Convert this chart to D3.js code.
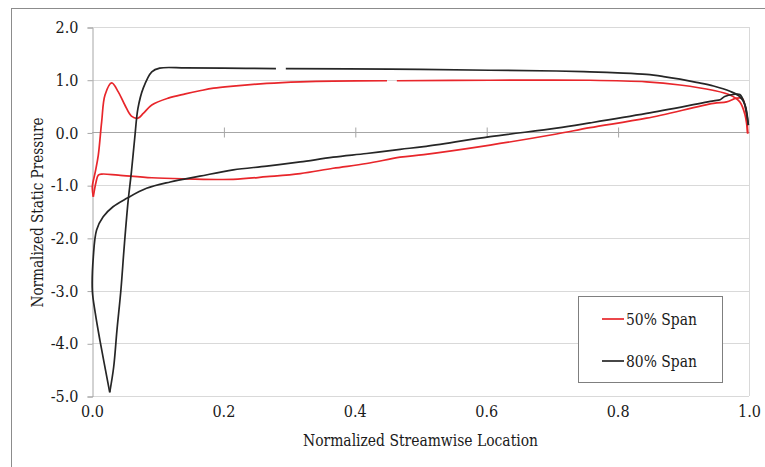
<!DOCTYPE html>
<html>
<head>
<meta charset="utf-8">
<script src="https://cdn.jsdelivr.net/npm/d3@7"></script>
<style>
  html, body { margin: 0; padding: 0; background: #fff; }
  svg { display: block; }
</style>
</head>
<body>
<svg id="chart" width="765" height="467"></svg>
<script>
// ---------- data ----------
const xTicks = [0.0, 0.2, 0.4, 0.6, 0.8, 1.0];
const yTicks = [-5, -4, -3, -2, -1, 0, 1, 2];
const seriesNames = ["50% Span", "80% Span"];

// 50% span, suction side: leading edge -> trailing edge (null = gap in the trace)
const span50Upper = [
  [0.002,-1.22],[0.0005,-1.03],[0.005,-0.75],[0.0096,-0.43],[0.0147,0.20],[0.0198,0.71],
  [0.030,0.94],[0.040,0.77],[0.050,0.52],[0.060,0.31],[0.070,0.27],[0.078,0.36],
  [0.091,0.52],[0.116,0.65],[0.142,0.73],[0.164,0.79],[0.185,0.84],[0.215,0.88],
  [0.266,0.93],[0.317,0.96],[0.367,0.975],[0.449,0.98],null,[0.464,0.98],
  [0.606,0.99],[0.758,0.99],[0.844,0.96],[0.895,0.90],[0.945,0.80],[0.971,0.71],
  [0.986,0.58],[0.994,0.33],[0.998,-0.02]
];
// 50% span, pressure side
const span50Lower = [
  [0.002,-1.22],[0.006,-0.95],[0.0096,-0.81],[0.015,-0.79],[0.040,-0.81],[0.091,-0.86],
  [0.142,-0.88],[0.215,-0.89],[0.266,-0.84],[0.317,-0.78],[0.367,-0.68],[0.418,-0.59],
  [0.469,-0.47],[0.505,-0.42],[0.606,-0.24],[0.707,-0.03],[0.758,0.09],[0.844,0.27],
  [0.946,0.55],[0.966,0.58],[0.981,0.65],[0.990,0.64],[0.996,0.35],[0.998,-0.02]
];
// 80% span, suction side: minimum -> top -> trailing edge
const span80Upper = [
  [0.027,-4.93],[0.033,-4.45],[0.038,-3.75],[0.044,-2.99],[0.049,-2.17],[0.055,-1.30],
  [0.060,-0.75],[0.065,-0.11],[0.070,0.46],[0.078,0.84],[0.091,1.15],[0.103,1.22],
  [0.142,1.225],[0.200,1.22],[0.280,1.21],null,[0.295,1.21],[0.454,1.20],[0.606,1.18],
  [0.707,1.165],[0.758,1.15],[0.800,1.13],[0.844,1.10],[0.870,1.06],[0.895,1.01],
  [0.920,0.95],[0.946,0.88],[0.971,0.78],[0.986,0.68],[0.994,0.52],[0.999,0.14]
];
// 80% span, pressure side: minimum -> leading edge -> trailing edge
const span80Lower = [
  [0.027,-4.93],[0.012,-3.94],[0.005,-3.43],[0.0005,-3.0],[0.002,-2.36],[0.007,-1.85],
  [0.017,-1.60],[0.032,-1.41],[0.053,-1.25],[0.083,-1.06],[0.119,-0.94],[0.164,-0.83],
  [0.215,-0.71],[0.266,-0.64],[0.317,-0.56],[0.367,-0.47],[0.418,-0.40],[0.469,-0.32],
  [0.505,-0.27],[0.606,-0.08],[0.707,0.08],[0.758,0.18],[0.844,0.36],[0.946,0.60],
  [0.956,0.62],[0.963,0.68],[0.976,0.72],[0.986,0.72],[0.993,0.55],[0.999,0.14]
];

// ---------- drawing ----------
const svg = d3.select("#chart");
const FONT = '"DejaVu Serif", serif';
const TXT = "#1a1a1a";
const plot = { left: 92, right: 749, top: 27, bottom: 396 };
const x = d3.scaleLinear().domain([0, 1]).range([plot.left, plot.right]);
const y = d3.scaleLinear().domain([-5, 2]).range([plot.bottom, plot.top]);

const RED = "#e8262b", BLACK = "#262626";
const GRID = "#d9d9d9", AXIS = "#a6a6a6";

// narrow the (wide) serif glyphs to Times-like widths
function squeeze(sel, factor, target) {
  sel.each(function () {
    const w = this.getComputedTextLength();
    const t = target != null ? target : w * factor;
    d3.select(this).attr("textLength", t).attr("lengthAdjust", "spacingAndGlyphs");
  });
}

svg.append("rect").attr("x", 11.5).attr("y", 8.5).attr("width", 800).attr("height", 500)
  .attr("fill", "none").attr("stroke", "#8c8c8c").attr("stroke-width", 1);

svg.append("g").selectAll("line").data(yTicks.filter(d => d > -5)).join("line")
  .attr("x1", plot.left).attr("x2", plot.right)
  .attr("y1", d => Math.round(y(d)) + 0.5).attr("y2", d => Math.round(y(d)) + 0.5)
  .attr("stroke", GRID).attr("stroke-width", 1);

svg.append("line").attr("x1", plot.right + 0.5).attr("x2", plot.right + 0.5)
  .attr("y1", plot.top).attr("y2", plot.bottom).attr("stroke", GRID);
svg.append("line").attr("x1", plot.left).attr("x2", plot.right)
  .attr("y1", plot.bottom + 0.5).attr("y2", plot.bottom + 0.5).attr("stroke", GRID);

const yAxis = svg.append("g").attr("transform", `translate(${plot.left + 0.5},0.5)`)
  .call(d3.axisLeft(y).tickValues(yTicks).tickSize(5).tickPadding(9)
    .tickFormat(d => d.toFixed(1)));
yAxis.attr("font-family", FONT).attr("font-size", 16);
yAxis.select(".domain").attr("stroke", AXIS);
yAxis.selectAll(".tick line").attr("stroke", AXIS);
yAxis.selectAll("text").attr("fill", TXT).call(squeeze, 0.9);

const y0 = Math.round(y(0)) + 0.5;
const xAx1 = svg.append("g").attr("transform", `translate(0.5,${y0})`)
  .call(d3.axisBottom(x).tickValues([0.2, 0.4, 0.6, 0.8]).tickSize(5).tickFormat(""));
const xAx2 = svg.append("g").attr("transform", `translate(0.5,${y0})`)
  .call(d3.axisTop(x).tickValues([0.2, 0.4, 0.6, 0.8]).tickSize(5).tickFormat(""));
[xAx1, xAx2].forEach(g => {
  g.select(".domain").attr("stroke", AXIS).attr("d", `M${plot.left},0H${plot.right}`);
  g.selectAll(".tick line").attr("stroke", AXIS);
});

const xLab = svg.append("g").attr("transform", `translate(0,${plot.bottom})`)
  .call(d3.axisBottom(x).tickValues(xTicks).tickSize(0).tickPadding(10)
    .tickFormat(d => d.toFixed(1)));
xLab.attr("font-family", FONT).attr("font-size", 16);
xLab.select(".domain").remove();
xLab.selectAll("text").attr("fill", TXT).call(squeeze, 0.9);

svg.append("text").attr("x", (plot.left + plot.right) / 2).attr("y", 446)
  .attr("text-anchor", "middle").attr("font-family", FONT).attr("font-size", 16)
  .attr("fill", TXT).text("Normalized Streamwise Location")
  .call(squeeze, null, 235);
svg.append("text").attr("transform", `translate(43,${(plot.top + plot.bottom) / 2 + 1}) rotate(-90)`)
  .attr("text-anchor", "middle").attr("font-family", FONT).attr("font-size", 16)
  .attr("fill", TXT).text("Normalized Static Pressure")
  .call(squeeze, null, 190);

const line = d3.line()
  .defined(d => d !== null)
  .x(d => x(d[0])).y(d => y(d[1]))
  .curve(d3.curveCatmullRom.alpha(0.5));

const curves = [
  { data: span50Upper, color: RED },
  { data: span50Lower, color: RED },
  { data: span80Upper, color: BLACK },
  { data: span80Lower, color: BLACK }
];
svg.append("g").selectAll("path").data(curves).join("path")
  .attr("d", d => line(d.data))
  .attr("fill", "none").attr("stroke", d => d.color)
  .attr("stroke-width", 1.7).attr("stroke-linejoin", "round");

const lg = svg.append("g");
lg.append("rect").attr("x", 578.5).attr("y", 296.5).attr("width", 144).attr("height", 86)
  .attr("fill", "#fff").attr("stroke", "#7f7f7f").attr("stroke-width", 1);
const legendItems = [
  { name: seriesNames[0], color: RED, yy: 319 },
  { name: seriesNames[1], color: BLACK, yy: 361 }
];
legendItems.forEach(it => {
  lg.append("line").attr("x1", 602).attr("x2", 624).attr("y1", it.yy).attr("y2", it.yy)
    .attr("stroke", it.color).attr("stroke-width", 1.7);
  lg.append("text").attr("x", 626).attr("y", it.yy + 6).attr("font-family", FONT)
    .attr("font-size", 17).attr("fill", TXT).text(it.name)
    .call(squeeze, null, 71);
});
</script>
</body>
</html>
